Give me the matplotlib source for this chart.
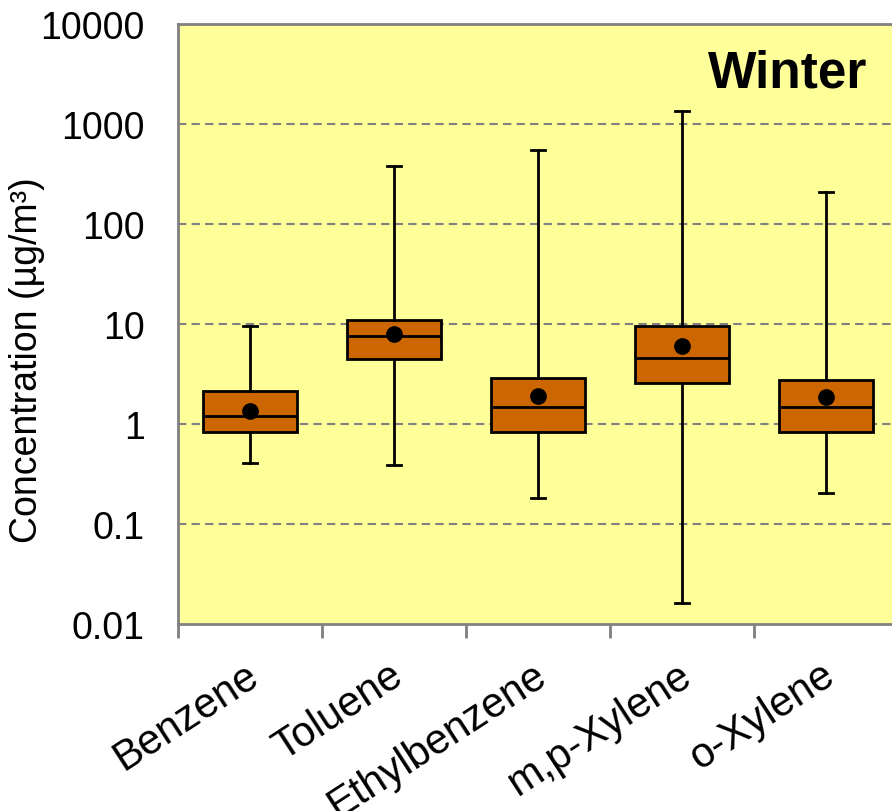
import matplotlib
import numpy as np

matplotlib.use("Agg")
import matplotlib.pyplot as plt  # noqa: E402
from matplotlib.transforms import ScaledTranslation  # noqa: E402

plt.rcParams["font.family"] = ["Liberation Sans", "DejaVu Sans"]

compounds = ["Benzene", "Toluene", "Ethylbenzene", "m,p-Xylene", "o-Xylene"]
whisker_low = [0.41, 0.39, 0.18, 0.0162, 0.203]
q1 = [0.826, 4.43, 0.84, 2.57, 0.826]
median = [1.21, 7.53, 1.49, 4.54, 1.49]
q3 = [2.15, 10.96, 2.88, 9.6, 2.77]
whisker_high = [9.6, 380.0, 546.0, 1340.0, 207.0]
mean = [1.35, 8.0, 1.9, 6.0, 1.85]

positions = np.arange(len(compounds))

stats = []
for i, name in enumerate(compounds):
    stats.append(
        {
            "label": name,
            "whislo": whisker_low[i],
            "q1": q1[i],
            "med": median[i],
            "q3": q3[i],
            "whishi": whisker_high[i],
            "mean": mean[i],
            "fliers": [],
        }
    )

fig = plt.figure(figsize=(8.92, 8.12), dpi=100)
ax = fig.add_axes([178 / 892, 187 / 812, 720 / 892, 600 / 812])
ax.set_facecolor("#FFFF99")

ax.bxp(
    stats,
    positions=positions,
    widths=0.65,
    showmeans=True,
    patch_artist=True,
    boxprops={"facecolor": "#CC6600", "edgecolor": "black", "linewidth": 2.0},
    medianprops={"color": "black", "linewidth": 2.0},
    whiskerprops={"color": "black", "linewidth": 2.0},
    capprops={"color": "black", "linewidth": 2.0},
    capwidths=0.1,
    meanprops={"marker": "o", "markerfacecolor": "black", "markeredgecolor": "black", "markersize": 11},
    zorder=3,
)

ax.set_yscale("log")
ax.set_ylim(0.01, 10000)
ax.set_xlim(-0.5, len(compounds) - 0.5)

yticks = [0.01, 0.1, 1, 10, 100, 1000, 10000]
ytick_labels = ["0.01", "0.1", "1", "10", "100", "1000", "10000"]
ax.set_yticks(yticks)
ax.set_yticklabels(ytick_labels)
ax.yaxis.set_minor_locator(matplotlib.ticker.NullLocator())
ax.tick_params(axis="y", length=0, pad=24, labelsize=27)

ax.set_xticks(positions - 0.5)
ax.set_xticklabels([])
ax.set_xticks(positions, minor=True)
ax.set_xticklabels(compounds, minor=True, rotation=33, ha="right", va="top",
                   rotation_mode="anchor", fontsize=30)
ax.tick_params(axis="x", which="major", length=10, width=2, color="#808080")
ax.tick_params(axis="x", which="minor", length=0, pad=22)
shift = ScaledTranslation(-4 / 72, 0, fig.dpi_scale_trans)
for lab in ax.get_xticklabels(minor=True):
    lab.set_transform(lab.get_transform() + shift)

for y in yticks[1:-1]:
    ax.axhline(y, color="#808080", linestyle=(0, (4, 2.5)), linewidth=1.5, zorder=1)

for side in ["left", "top", "bottom", "right"]:
    ax.spines[side].set_color("#808080")
    ax.spines[side].set_linewidth(2.0)

ax.set_ylabel("Concentration (µg/m³)", fontsize=27)
ax.yaxis.set_label_coords(-0.185, 0.442)

ax.text(0.958, 0.895, "Winter", transform=ax.transAxes, ha="right", va="baseline",
        fontsize=37, fontweight="bold")

fig.savefig("out.png", dpi=100)
plt.close(fig)
